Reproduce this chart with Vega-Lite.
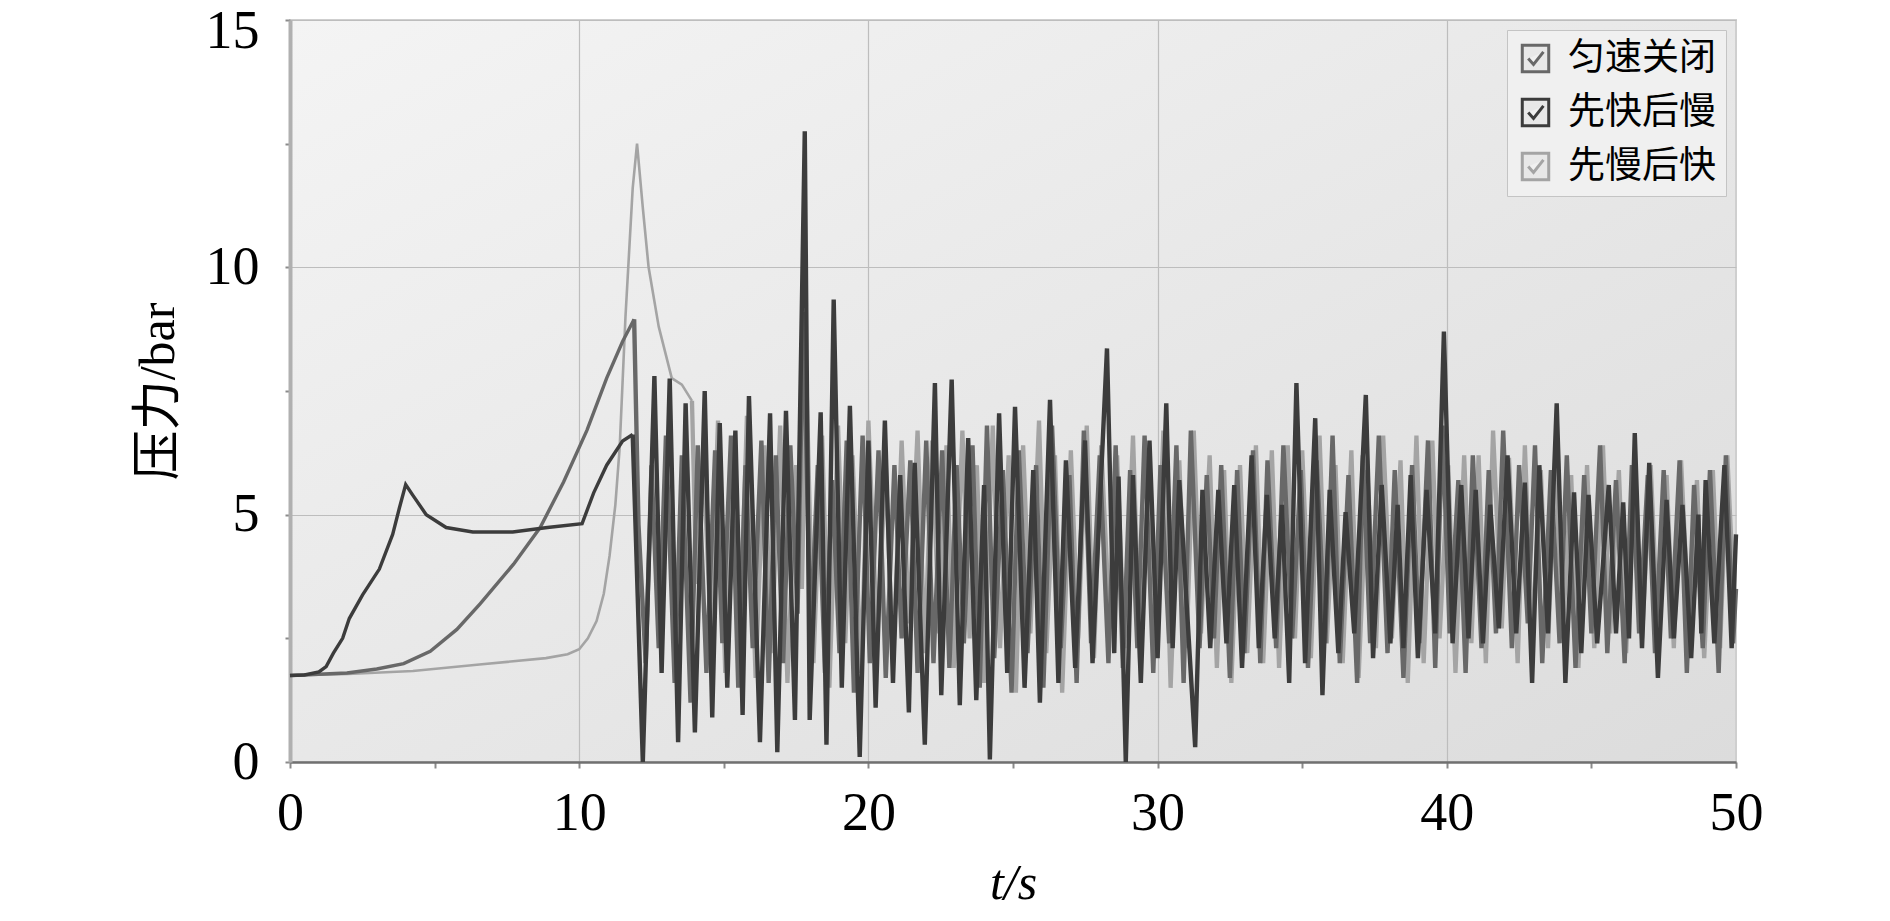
{
  "$schema": "https://vega.github.io/schema/vega-lite/v6.json",
  "width": 1446,
  "height": 742,
  "autosize": {"type": "none"},
  "padding": {"left": 290, "top": 20, "right": 154, "bottom": 159},
  "background": "white",
  "datasets": {
    "a1": [
      {"t":0,"p":1.75},{"t":0.5,"p":1.76},{"t":1,"p":1.82},{"t":1.25,"p":1.93},{"t":1.5,"p":2.2},{"t":1.82,"p":2.5},{"t":2.05,"p":2.9},{"t":2.51,"p":3.38},{"t":3.09,"p":3.9},{"t":3.55,"p":4.6},{"t":3.78,"p":5.13},{"t":4,"p":5.61},{"t":4.25,"p":5.39},{"t":4.71,"p":5},{"t":5.4,"p":4.74},{"t":6.32,"p":4.65},{"t":7.7,"p":4.65},{"t":8.9,"p":4.74},{"t":10.1,"p":4.82},{"t":10.5,"p":5.44},{"t":10.95,"p":6},{"t":11.5,"p":6.49},{"t":11.85,"p":6.62}
    ],
    "a2": [
      {"t":11.85,"p":6.62},{"t":12.2,"p":0},
      {"t":12.6,"p":7.8},{"t":12.85,"p":1.8},{"t":13.13,"p":7.75},{"t":13.42,"p":0.4},{"t":13.68,"p":7.25},{"t":14,"p":0.6},{"t":14.34,"p":7.5},{"t":14.6,"p":0.9},{"t":14.86,"p":6.85},{"t":15.12,"p":1.5},{"t":15.4,"p":6.7},{"t":15.65,"p":0.95},{"t":15.87,"p":7.4},{"t":16.25,"p":0.4},{"t":16.6,"p":7.05},{"t":16.85,"p":0.2},{"t":17.15,"p":7.1},{"t":17.46,"p":0.85},{"t":17.8,"p":12.75},{"t":17.97,"p":0.85},{"t":18.35,"p":7.07},{"t":18.55,"p":0.35},{"t":18.8,"p":9.35},{"t":19.08,"p":1.5},{"t":19.36,"p":7.2},{"t":19.7,"p":0.1},{"t":20,"p":6.5},{"t":20.25,"p":1.1},{"t":20.57,"p":6.9},{"t":20.85,"p":1.6},{"t":21.1,"p":5.8},{"t":21.4,"p":1},{"t":21.6,"p":6.05},{"t":21.95,"p":0.35},
      {"t":22.3,"p":7.66},{"t":22.52,"p":1.35},{"t":22.88,"p":7.73},{"t":23.16,"p":1.15},{"t":23.45,"p":6.55},{"t":23.73,"p":1.25},{"t":24,"p":5.6},{"t":24.2,"p":0.05},{"t":24.52,"p":7.05},{"t":24.8,"p":1.8},{"t":25.07,"p":7.18},{"t":25.4,"p":1.5},{"t":25.7,"p":5.9},{"t":25.93,"p":1.2},{"t":26.28,"p":7.32},{"t":26.57,"p":1.6},{"t":26.83,"p":6.1},{"t":27.15,"p":1.9},{"t":27.49,"p":6.5},{"t":27.75,"p":2},{"t":28.25,"p":8.36},{"t":28.5,"p":2.2},{"t":28.65,"p":5.77},{"t":28.9,"p":0},{"t":29.15,"p":5.8},{"t":29.42,"p":1.6},{"t":29.72,"p":6.5},{"t":30,"p":2.1},{"t":30.3,"p":7.25},{"t":30.52,"p":2.3},{"t":30.75,"p":5.7},{"t":31.3,"p":0.3},{"t":31.55,"p":5.5},{"t":31.82,"p":2.3},
      {"t":32.1,"p":5.5},{"t":32.38,"p":2.4},{"t":32.65,"p":5.6},{"t":32.92,"p":1.9},{"t":33.25,"p":6.2},{"t":33.5,"p":2.3},{"t":33.78,"p":5.4},{"t":34.05,"p":2.5},{"t":34.3,"p":5.2},{"t":34.55,"p":1.6},{"t":34.8,"p":7.66},{"t":35.1,"p":2},{"t":35.45,"p":6.95},{"t":35.7,"p":1.35},{"t":35.95,"p":5.5},{"t":36.25,"p":2.2},{"t":36.5,"p":5.05},{"t":36.8,"p":2.6},{"t":37.2,"p":7.42},{"t":37.45,"p":2.1},{"t":37.75,"p":5.6},{"t":38.05,"p":2.4},{"t":38.3,"p":5.2},{"t":38.5,"p":2.3},{"t":38.75,"p":5.8},{"t":39,"p":2.1},{"t":39.3,"p":5.5},{"t":39.6,"p":2.6},{"t":39.9,"p":8.7},{"t":40.2,"p":2.4},{"t":40.5,"p":5.6},{"t":40.75,"p":2.5},{"t":41,"p":5.5},{"t":41.25,"p":2.4},{"t":41.5,"p":5.2},{"t":41.8,"p":2.7},
      {"t":42.1,"p":6.2},{"t":42.4,"p":2.6},{"t":42.7,"p":5.65},{"t":42.95,"p":1.6},{"t":43.2,"p":6},{"t":43.5,"p":2.6},{"t":43.8,"p":7.25},{"t":44.1,"p":1.6},{"t":44.4,"p":5.45},{"t":44.65,"p":2.2},{"t":44.9,"p":5.4},{"t":45.2,"p":2.4},{"t":45.6,"p":5.6},{"t":45.85,"p":2.6},{"t":46.1,"p":5.25},{"t":46.3,"p":2.5},{"t":46.5,"p":6.65},{"t":46.75,"p":2.3},{"t":47,"p":6.05},{"t":47.3,"p":1.7},{"t":47.6,"p":5.3},{"t":47.85,"p":2.5},{"t":48.15,"p":5.2},{"t":48.45,"p":2.1},{"t":48.7,"p":5.0},{"t":48.8,"p":2.6},{"t":48.95,"p":5.7},{"t":49.25,"p":2.4},{"t":49.6,"p":6},{"t":49.85,"p":2.3},{"t":50,"p":4.6}
    ],
    "b1": [
      {"t":0,"p":1.75},{"t":1.97,"p":1.8},{"t":3,"p":1.88},{"t":3.93,"p":1.99},{"t":4.85,"p":2.24},{"t":5.77,"p":2.68},{"t":6.58,"p":3.2},{"t":7.73,"p":4},{"t":8.65,"p":4.74},{"t":9.46,"p":5.66},{"t":10.27,"p":6.71},{"t":10.95,"p":7.76},{"t":11.5,"p":8.5},{"t":11.9,"p":8.95}
    ],
    "b2": [
      {"t":11.9,"p":8.95},{"t":12.05,"p":4.8},{"t":12.3,"p":2},
      {"t":12.5,"p":6},{"t":12.75,"p":2.3},{"t":13,"p":6.6},{"t":13.3,"p":1.6},{"t":13.55,"p":6.2},{"t":13.85,"p":1.2},{"t":14.1,"p":6.4},{"t":14.4,"p":1.8},{"t":14.7,"p":6.3},{"t":14.95,"p":2.4},{"t":15.25,"p":6.6},{"t":15.5,"p":1.5},{"t":15.75,"p":6},{"t":16,"p":2.3},{"t":16.3,"p":6.5},{"t":16.55,"p":1.6},{"t":16.8,"p":6.2},{"t":17.05,"p":2},{"t":17.3,"p":6.4},{"t":17.55,"p":3},{"t":17.75,"p":9.1},{"t":18,"p":2.5},{"t":18.25,"p":6},{"t":18.5,"p":1.8},{"t":18.75,"p":5.7},{"t":19,"p":2.2},{"t":19.25,"p":6.5},{"t":19.5,"p":1.4},{"t":19.8,"p":6.6},{"t":20.05,"p":2},{"t":20.35,"p":6.3},{"t":20.6,"p":1.7},{"t":20.9,"p":6},{"t":21.15,"p":2.5},{"t":21.45,"p":6.1},{"t":21.7,"p":1.8},
      {"t":22,"p":6.5},{"t":22.25,"p":2},{"t":22.55,"p":6.3},{"t":22.8,"p":1.9},{"t":23.05,"p":6},{"t":23.3,"p":2.4},{"t":23.6,"p":6.4},{"t":23.85,"p":1.5},{"t":24.1,"p":6.8},{"t":24.35,"p":2.1},{"t":24.65,"p":5.9},{"t":24.95,"p":1.4},{"t":25.2,"p":6.3},{"t":25.5,"p":2.2},{"t":25.8,"p":6},{"t":26.05,"p":1.5},{"t":26.35,"p":6.8},{"t":26.65,"p":2.3},{"t":26.95,"p":5.8},{"t":27.2,"p":1.6},{"t":27.45,"p":6.7},{"t":27.7,"p":2.4},{"t":28,"p":6.2},{"t":28.3,"p":2},{"t":28.55,"p":6.4},{"t":28.8,"p":1.9},{"t":29.05,"p":5.9},{"t":29.3,"p":2.3},{"t":29.55,"p":6.6},{"t":29.85,"p":1.8},{"t":30.1,"p":6},{"t":30.4,"p":2.4},{"t":30.65,"p":6.4},{"t":30.9,"p":1.6},{"t":31.15,"p":6.7},{"t":31.45,"p":2.3},{"t":31.7,"p":5.8},{"t":31.95,"p":2.5},
      {"t":32.2,"p":6},{"t":32.5,"p":1.7},{"t":32.75,"p":5.9},{"t":33,"p":2.2},{"t":33.3,"p":6.3},{"t":33.55,"p":2},{"t":33.8,"p":6.1},{"t":34.1,"p":2.3},{"t":34.35,"p":6.4},{"t":34.65,"p":2.5},{"t":34.95,"p":5.9},{"t":35.2,"p":1.9},{"t":35.5,"p":6.1},{"t":35.8,"p":2.4},{"t":36.05,"p":6.6},{"t":36.3,"p":2},{"t":36.6,"p":5.8},{"t":36.9,"p":1.6},{"t":37.1,"p":6.2},{"t":37.35,"p":2.4},{"t":37.65,"p":6.6},{"t":37.95,"p":2.2},{"t":38.2,"p":5.9},{"t":38.5,"p":1.7},{"t":38.8,"p":6},{"t":39.05,"p":2.4},{"t":39.35,"p":6.5},{"t":39.6,"p":1.9},{"t":39.85,"p":6.8},{"t":40.1,"p":2.6},{"t":40.4,"p":5.7},{"t":40.65,"p":1.8},{"t":40.9,"p":6.2},{"t":41.2,"p":2.3},{"t":41.45,"p":5.9},{"t":41.7,"p":2.6},
      {"t":41.95,"p":6.7},{"t":42.25,"p":2.3},{"t":42.5,"p":6},{"t":42.8,"p":2.8},{"t":43.05,"p":6.4},{"t":43.3,"p":2},{"t":43.6,"p":5.9},{"t":43.9,"p":2.4},{"t":44.15,"p":6.2},{"t":44.45,"p":1.9},{"t":44.75,"p":5.8},{"t":45,"p":2.6},{"t":45.3,"p":6.4},{"t":45.55,"p":2.2},{"t":45.85,"p":5.7},{"t":46.15,"p":2},{"t":46.4,"p":6},{"t":46.65,"p":2.6},{"t":46.95,"p":5.8},{"t":47.2,"p":2.2},{"t":47.5,"p":5.9},{"t":47.75,"p":2.5},{"t":48.05,"p":6.1},{"t":48.3,"p":1.8},{"t":48.55,"p":5.6},{"t":48.85,"p":2.3},{"t":49.1,"p":5.9},{"t":49.4,"p":1.8},{"t":49.65,"p":6.2},{"t":49.9,"p":2.4},{"t":50,"p":3.5}
    ],
    "c1": [
      {"t":0,"p":1.75},{"t":2,"p":1.78},{"t":4.25,"p":1.84},{"t":6.55,"p":1.97},{"t":8.85,"p":2.1},{"t":9.6,"p":2.18},{"t":10,"p":2.28},{"t":10.3,"p":2.5},{"t":10.6,"p":2.85},{"t":10.85,"p":3.4},{"t":11.05,"p":4.17},{"t":11.25,"p":5.2},{"t":11.4,"p":6.36},{"t":11.6,"p":9},{"t":11.85,"p":11.6},{"t":12,"p":12.5},{"t":12.2,"p":11.2},{"t":12.4,"p":10},{"t":12.75,"p":8.8},{"t":13.2,"p":7.76},{"t":13.55,"p":7.63},{"t":13.9,"p":7.3}
    ],
    "c2": [
      {"t":13.9,"p":7.3},{"t":14.05,"p":3.6},{"t":14.3,"p":6.1},{"t":14.55,"p":2.6},{"t":14.8,"p":6.9},{"t":15.05,"p":1.8},{"t":15.3,"p":6.3},{"t":15.55,"p":2.4},{"t":15.8,"p":7},{"t":16.1,"p":1.7},{"t":16.4,"p":6.4},{"t":16.65,"p":2.2},{"t":16.95,"p":6.8},{"t":17.2,"p":1.6},{"t":17.5,"p":6},{"t":17.7,"p":3.5},{"t":17.85,"p":7.9},{"t":18.1,"p":2},{"t":18.4,"p":6.6},{"t":18.65,"p":1.5},{"t":18.95,"p":6.8},{"t":19.2,"p":2.4},{"t":19.45,"p":6.2},{"t":19.75,"p":1.8},{"t":20,"p":6.9},{"t":20.3,"p":2.5},{"t":20.6,"p":6},{"t":20.85,"p":2},{"t":21.15,"p":6.5},{"t":21.4,"p":2.8},{"t":21.7,"p":6.7},{"t":21.95,"p":2.2},
      {"t":22.2,"p":6.5},{"t":22.45,"p":2.6},{"t":22.7,"p":6.4},{"t":22.95,"p":1.9},{"t":23.25,"p":6.7},{"t":23.5,"p":2.5},{"t":23.75,"p":6},{"t":24,"p":1.6},{"t":24.3,"p":6.8},{"t":24.55,"p":2.3},{"t":24.85,"p":6.2},{"t":25.1,"p":1.4},{"t":25.35,"p":6.4},{"t":25.6,"p":2.6},{"t":25.9,"p":6.9},{"t":26.15,"p":2.2},{"t":26.45,"p":6.2},{"t":26.7,"p":1.4},{"t":27,"p":6.3},{"t":27.25,"p":2.5},{"t":27.55,"p":6.8},{"t":27.8,"p":2.1},{"t":28.05,"p":6.4},{"t":28.35,"p":2.7},{"t":28.6,"p":6.2},{"t":28.85,"p":2.3},{"t":29.15,"p":6.6},{"t":29.4,"p":1.9},{"t":29.7,"p":6.3},{"t":29.95,"p":2.6},{"t":30.2,"p":6.7},{"t":30.45,"p":1.5},{"t":30.75,"p":6.1},{"t":31,"p":2.3},{"t":31.25,"p":6.7},{"t":31.5,"p":2.6},{"t":31.8,"p":6.2},
      {"t":32.05,"p":1.9},{"t":32.3,"p":5.9},{"t":32.55,"p":1.6},{"t":32.85,"p":6},{"t":33.1,"p":2.2},{"t":33.4,"p":6.4},{"t":33.65,"p":2},{"t":33.95,"p":6.3},{"t":34.2,"p":1.9},{"t":34.5,"p":6.4},{"t":34.75,"p":2.5},{"t":35,"p":6.3},{"t":35.3,"p":2.1},{"t":35.6,"p":6.6},{"t":35.85,"p":2.4},{"t":36.15,"p":6},{"t":36.4,"p":2},{"t":36.7,"p":6.3},{"t":36.95,"p":1.7},{"t":37.25,"p":5.9},{"t":37.55,"p":2.3},{"t":37.8,"p":6.6},{"t":38.1,"p":2.5},{"t":38.4,"p":6.1},{"t":38.65,"p":1.6},{"t":38.95,"p":6.6},{"t":39.2,"p":2},{"t":39.5,"p":6.5},{"t":39.75,"p":2.5},{"t":40.05,"p":6},{"t":40.3,"p":1.8},{"t":40.6,"p":6.2},{"t":40.85,"p":2.4},{"t":41.1,"p":6.2},{"t":41.35,"p":2},{"t":41.6,"p":6.7},{"t":41.9,"p":2.7},
      {"t":42.15,"p":6.15},{"t":42.45,"p":2},{"t":42.7,"p":6.4},{"t":42.95,"p":2.5},{"t":43.25,"p":5.9},{"t":43.5,"p":2.3},{"t":43.75,"p":6.2},{"t":44,"p":2.5},{"t":44.3,"p":5.8},{"t":44.55,"p":1.9},{"t":44.85,"p":6},{"t":45.1,"p":2.3},{"t":45.4,"p":6.4},{"t":45.65,"p":2.6},{"t":45.95,"p":5.9},{"t":46.2,"p":2.2},{"t":46.5,"p":6},{"t":46.75,"p":2.5},{"t":47.05,"p":6},{"t":47.3,"p":2.6},{"t":47.6,"p":5.8},{"t":47.85,"p":2.3},{"t":48.1,"p":6.1},{"t":48.4,"p":2.4},{"t":48.65,"p":5.7},{"t":48.9,"p":2.1},{"t":49.2,"p":5.9},{"t":49.45,"p":2.3},{"t":49.7,"p":6.2},{"t":49.95,"p":3}
    ]
  },
  "encoding": {
    "x": {
      "field": "t", "type": "quantitative",
      "scale": {"domain": [0, 50], "nice": false, "zero": false},
      "axis": {
        "title": "t/s",
        "values": [0,5,10,15,20,25,30,35,40,45,50],
        "labelExpr": "datum.value % 10 == 0 ? datum.label : ''",
        "gridOpacity": {"condition": {"test": "datum.value % 10 != 0 || datum.value == 0 || datum.value == 50", "value": 0}, "value": 1},
        "labelFlush": false
      }
    },
    "y": {
      "field": "p", "type": "quantitative",
      "scale": {"domain": [0, 15], "nice": false},
      "axis": {
        "title": "压力/bar",
        "values": [0,2.5,5,7.5,10,12.5,15],
        "labelExpr": "datum.value % 5 == 0 ? datum.label : ''",
        "gridOpacity": {"condition": {"test": "datum.value % 5 != 0 || datum.value == 0", "value": 0}, "value": 1},
        "labelOffset": {"condition": {"test": "datum.value == 15", "value": 11}, "value": 0},
        "labelFlush": false
      }
    }
  },
  "layer": [
    {
      "data": {"name": "c1"},
      "mark": {"type": "line", "strokeWidth": 2.6},
      "encoding": {
        "color": {
          "datum": "先慢后快", "type": "nominal",
          "scale": {"domain": ["匀速关闭", "先快后慢", "先慢后快"], "range": ["#686868", "#3c3c3c", "#a4a4a4"]},
          "legend": {"title": null}
        }
      }
    },
    {
      "data": {"name": "c2"},
      "mark": {"type": "line", "strokeWidth": 4.3},
      "encoding": {"color": {"datum": "先慢后快", "type": "nominal"}}
    },
    {
      "data": {"name": "b1"},
      "mark": {"type": "line", "strokeWidth": 3.4},
      "encoding": {"color": {"datum": "匀速关闭", "type": "nominal"}}
    },
    {
      "data": {"name": "b2"},
      "mark": {"type": "line", "strokeWidth": 4.4},
      "encoding": {"color": {"datum": "匀速关闭", "type": "nominal"}}
    },
    {
      "data": {"name": "a1"},
      "mark": {"type": "line", "strokeWidth": 3.4},
      "encoding": {"color": {"datum": "先快后慢", "type": "nominal"}}
    },
    {
      "data": {"name": "a2"},
      "mark": {"type": "line", "strokeWidth": 4.4},
      "encoding": {"color": {"datum": "先快后慢", "type": "nominal"}}
    }
  ],
  "config": {
    "view": {
      "fill": {"gradient": "linear", "x1": 0, "y1": 0, "x2": 1, "y2": 1, "stops": [{"offset": 0, "color": "#f4f4f4"}, {"offset": 1, "color": "#dcdcdc"}]},
      "stroke": "#cfcfcf",
      "strokeWidth": 2
    },
    "axis": {
      "labelFont": "Liberation Serif",
      "labelFontSize": 54,
      "labelColor": "#000000",
      "titleFont": "Liberation Serif, Noto Sans CJK SC",
      "titleFontSize": 50,
      "titleFontWeight": "normal",
      "titleColor": "#000000",
      "gridColor": "#bdbdbd",
      "gridWidth": 1.2,
      "tickColor": "#8a8a8a",
      "tickWidth": 2
    },
    "axisX": {
      "domainColor": "#707070",
      "domainWidth": 2.5,
      "tickSize": 6,
      "labelPadding": 18,
      "titleFontStyle": "italic",
      "titlePadding": 18
    },
    "axisY": {
      "domainColor": "#b0b0b0",
      "domainWidth": 4,
      "tickSize": 5,
      "labelPadding": 26,
      "titlePadding": 22
    },
    "legend": {
      "orient": "top-right",
      "offset": 10,
      "fillColor": "#f0f0f0",
      "strokeColor": "#c4c4c4",
      "padding": 10,
      "labelFont": "Noto Sans CJK SC",
      "labelFontSize": 37,
      "labelColor": "#000000",
      "labelOffset": 14,
      "rowPadding": 15,
      "symbolType": "M-1,-1L1,-1L1,1L-1,1Z M-0.55,0L-0.15,0.45L0.6,-0.5",
      "symbolSize": 700,
      "symbolStrokeWidth": 3,
      "symbolFillColor": "#e8e8e8"
    }
  }
}
